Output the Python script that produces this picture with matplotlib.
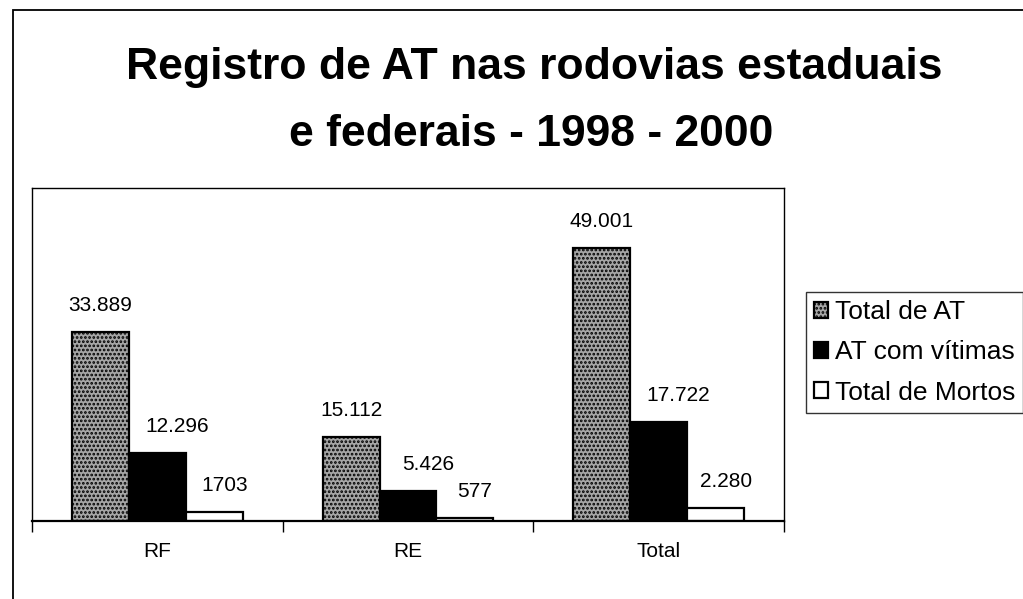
import numpy as np
import matplotlib.pyplot as plt
from matplotlib.patches import Rectangle

plt.rcParams['font.family'] = ['Liberation Sans', 'DejaVu Sans']
plt.rcParams['hatch.color'] = '#2a2a2a'
plt.rcParams['hatch.linewidth'] = 1.3

categories = ['RF', 'RE', 'Total']
series_names = ['Total de AT', 'AT com vítimas', 'Total de Mortos']
total_at = [33889, 15112, 49001]
at_vitimas = [12296, 5426, 17722]
total_mortos = [1703, 577, 2280]
value_labels = [['33.889', '15.112', '49.001'],
                ['12.296', '5.426', '17.722'],
                ['1703', '577', '2.280']]

fig = plt.figure(figsize=(10.23, 5.99), dpi=100)

# outer chart border (right/bottom run off the scan)
fig.patches.append(Rectangle((13 / 1023, -0.05), 1.1, 1 - 10 / 599 + 0.05,
                             transform=fig.transFigure, fill=False,
                             edgecolor='black', linewidth=1.3))

ax = fig.add_axes([32 / 1023, 1 - 521 / 599, (784 - 32) / 1023, (521 - 188) / 599])

x = np.arange(len(categories))
w = 0.227
styles = [dict(facecolor='#a6a6a6', hatch='....', edgecolor='black'),
          dict(facecolor='black', edgecolor='black'),
          dict(facecolor='white', edgecolor='black')]
series = [total_at, at_vitimas, total_mortos]
label_dx = [0, 20, 10]  # pixels

bars = []
for i, (vals, st) in enumerate(zip(series, styles)):
    b = ax.bar(x + (i - 1) * w, vals, w, linewidth=1.6, label=series_names[i], **st)
    bars.append(b)
    for rect, lab in zip(b, value_labels[i]):
        ax.annotate(lab, (rect.get_x() + rect.get_width() / 2, rect.get_height()),
                    xytext=(label_dx[i], 17), textcoords='offset pixels',
                    ha='center', va='bottom', fontsize=15)

ax.set_xlim(-0.5, 2.5)
ax.set_ylim(0, 59800)
ax.set_yticks([])
ax.set_xticks(x)
ax.set_xticklabels(categories, fontsize=15)
ax.tick_params(axis='x', which='major', length=0, pad=15)
ax.set_xticks([-0.5, 0.5, 1.5, 2.5], minor=True)
ax.tick_params(axis='x', which='minor', length=8, width=1, direction='out')
for s in ax.spines.values():
    s.set_linewidth(1.0)
ax.spines['bottom'].set_linewidth(1.6)

fig.text(534 / 1023, 1 - 79 / 599, 'Registro de AT nas rodovias estaduais',
         ha='center', va='baseline', fontsize=32, fontweight='bold')
fig.text(531 / 1023, 1 - 146 / 599, 'e federais - 1998 - 2000',
         ha='center', va='baseline', fontsize=32, fontweight='bold')

leg = fig.legend(handles=bars, labels=series_names, loc='upper left',
                 bbox_to_anchor=(806 / 1023, 1 - 292 / 599), fontsize=19,
                 frameon=True, fancybox=False, edgecolor='black',
                 handlelength=0.55, handleheight=0.55, handletextpad=0.25,
                 labelspacing=0.62, borderpad=0.3, borderaxespad=0)
leg.get_frame().set_linewidth(1.0)

fig.savefig('out.png', dpi=100)
